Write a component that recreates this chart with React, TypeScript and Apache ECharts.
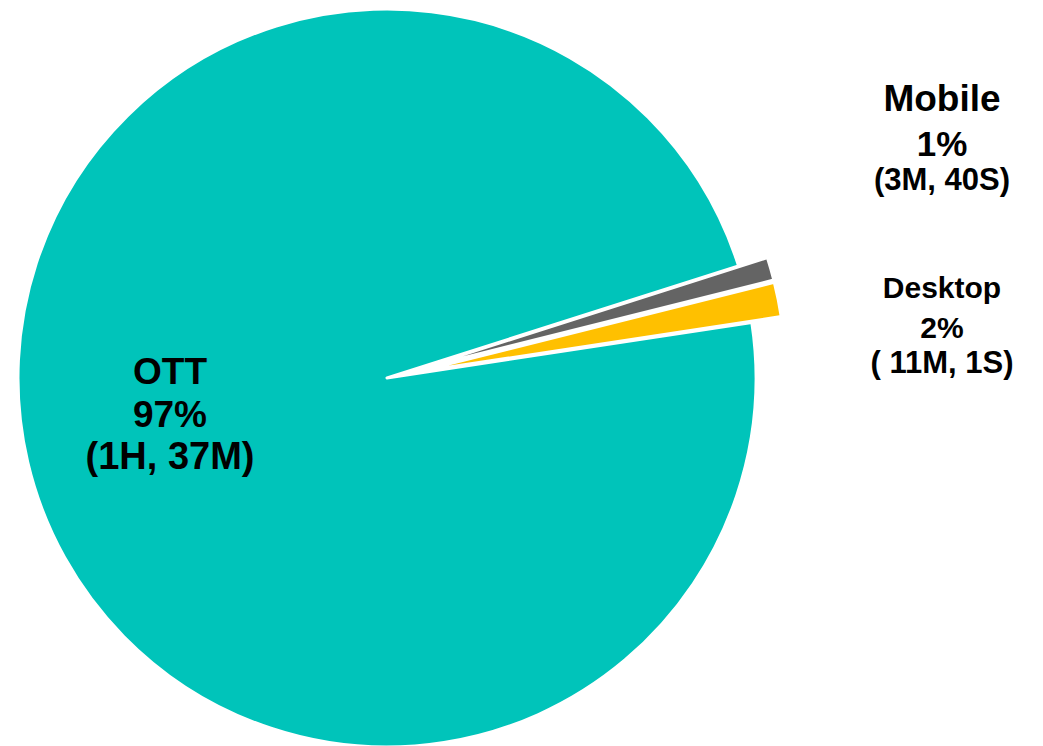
import React, { useEffect, useRef } from "react";
import * as echarts from "echarts";

// Data
const categories = ["Mobile", "Desktop", "OTT"];
const sliceValues = [1, 1.5, 97]; // slice sizes as drawn
const pctLabels = ["1%", "2%", "97%"];
const durations = ["(3M, 40S)", "( 11M, 1S)", "(1H, 37M)"];

// Styles
const colors = ["#646464", "#FFC000", "#00C4BA"];
const exploded = [true, true, false];
const FONT = "'Liberation Sans', Arial, sans-serif";

// Outside label layout for the two exploded slices: x and per-line y / size
const outsideLabelX = 942;
const outsideLineY: Record<number, number[]> = {
  0: [98, 143, 179],
  1: [287, 327, 362],
};
const outsideLineSize: Record<number, number[]> = {
  0: [37, 35, 31],
  1: [30, 30, 31],
};

export default function App() {
  const ref = useRef<HTMLDivElement>(null);
  useEffect(() => {
    if (!ref.current) return;
    const chart = echarts.init(ref.current, undefined, { renderer: "svg" });

    const graphics: any[] = [];
    [0, 1].forEach((i) => {
      const lines = [categories[i], pctLabels[i], durations[i]];
      lines.forEach((txt, k) => {
        graphics.push({
          type: "text",
          x: outsideLabelX,
          y: outsideLineY[i][k],
          silent: true,
          style: {
            text: txt,
            fill: "#000",
            fontSize: outsideLineSize[i][k],
            fontWeight: "bold",
            fontFamily: FONT,
            align: "center",
            verticalAlign: "middle",
          },
        });
      });
    });

    chart.setOption({
      animation: false,
      backgroundColor: "#ffffff",
      graphic: graphics,
      series: [
        {
          type: "pie",
          center: [387, 378],
          radius: 369,
          startAngle: 17.7,
          clockwise: true,
          selectedMode: "multiple",
          selectedOffset: 30,
          avoidLabelOverlap: false,
          silent: true,
          itemStyle: { borderColor: "#ffffff", borderWidth: 3 },
          emphasis: { disabled: true },
          labelLine: { show: false },
          labelLayout: (params: any) => {
            if (params.dataIndex === 2) {
              return { x: 170, y: 413, align: "center", verticalAlign: "middle" };
            }
            return {};
          },
          data: categories.map((name, i) => ({
            name,
            value: sliceValues[i],
            selected: exploded[i],
            itemStyle: { color: colors[i] },
            select: { itemStyle: { color: colors[i], borderColor: "#ffffff", borderWidth: 3 } },
            label: {
              show: i === 2,
              position: "inside",
              formatter: `{t|${name}}\n{t|${pctLabels[i]}}\n{d|${durations[i]}}`,
              align: "center",
              rich: {
                t: { fontSize: 37, fontWeight: "bold", lineHeight: 43, color: "#000", fontFamily: FONT },
                d: { fontSize: 38, fontWeight: "bold", lineHeight: 40, color: "#000", fontFamily: FONT },
              },
            },
          })),
        },
      ],
    });
    return () => chart.dispose();
  }, []);
  return (
    <div
      ref={ref}
      style={{ position: "fixed", left: 0, top: 0, width: 1043, height: 746 }}
    />
  );
}
